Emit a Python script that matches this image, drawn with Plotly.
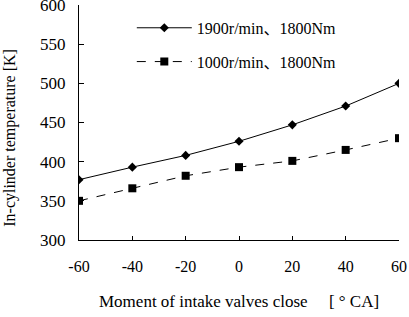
import plotly.graph_objects as go

x_vals = [-60, -40, -20, 0, 20, 40, 60]
s1_name = "1900r/min、1800Nm"
s1_vals = [377, 393, 408, 426, 447, 471, 500]
s2_name = "1000r/min、1800Nm"
s2_vals = [350, 366, 382, 393, 401, 415, 430]
x_ticks = [-60, -40, -20, 0, 20, 40, 60]
x_tick_text = ["-60", "-40", "-20", "0", "20", "40", "60"]
y_ticks = [300, 350, 400, 450, 500, 550, 600]

FONT = "Liberation Serif, Noto Sans CJK SC, serif"

fig = go.Figure()
fig.add_trace(go.Scatter(
    x=x_vals, y=s1_vals, name=s1_name, mode="lines+markers",
    line=dict(color="black", width=1),
    marker=dict(symbol="diamond", size=7, color="black"),
    legendgroup="a"))
fig.add_trace(go.Scatter(
    x=x_vals, y=s2_vals, name=s2_name, mode="lines+markers",
    line=dict(color="black", width=1, dash="dash"),
    marker=dict(symbol="square", size=8, color="black"),
    legendgroup="b"))

fig.update_layout(
    width=409, height=317,
    margin=dict(l=79, r=10, t=5, b=77, autoexpand=False),
    paper_bgcolor="white", plot_bgcolor="white",
    font=dict(family=FONT, size=16, color="black"),
    showlegend=True,
    legend=dict(x=0.165, y=0.975, xanchor="left", yanchor="top",
                bgcolor="rgba(0,0,0,0)", tracegroupgap=10,
                font=dict(size=16), itemwidth=55),
    xaxis=dict(range=[-60, 60], tickvals=x_ticks, ticktext=x_tick_text,
               ticks="inside", ticklen=4, automargin=False,
               showline=True, linecolor="black", linewidth=1, showgrid=False,
               zeroline=False, ticklabelstandoff=12, tickcolor="black",
               tickfont=dict(size=16)),
    yaxis=dict(range=[300, 600], tickvals=y_ticks, ticks="inside", ticklen=5,
               automargin=False,
               showline=True, linecolor="black", linewidth=1, showgrid=False,
               zeroline=False, ticklabelstandoff=9, tickcolor="black",
               tickfont=dict(size=17), ticklabeloverflow="allow"),
    annotations=[
        dict(text="Moment of intake valves close     [ ° CA]", xref="paper", yref="paper",
             x=0.5, y=-0.26, xanchor="center", yanchor="middle", showarrow=False,
             font=dict(size=17)),
        dict(text="In-cylinder temperature [K]", xref="paper", yref="paper",
             x=-0.218, y=0.436, xanchor="center", yanchor="middle", showarrow=False,
             textangle=-90, font=dict(size=16)),
    ],
)

fig.write_html("out.html")
